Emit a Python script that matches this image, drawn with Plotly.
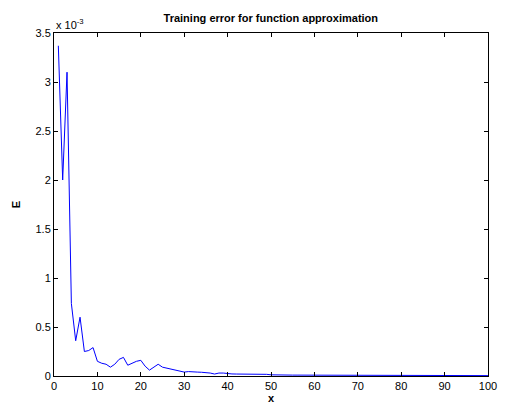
import plotly.graph_objects as go

# Training epochs / x values
x_values = list(range(1, 101))

# Training error E, in units of 1e-3
error_e3 = [
    3.37, 2.00, 3.10, 0.74, 0.36, 0.60, 0.25, 0.26, 0.29, 0.15,
    0.13, 0.12, 0.09, 0.12, 0.17, 0.19, 0.11, 0.13, 0.15, 0.16,
    0.10, 0.06, 0.09, 0.12, 0.09, 0.08, 0.07, 0.06, 0.045, 0.04,
    0.045, 0.04, 0.04, 0.038, 0.037, 0.03, 0.02, 0.03, 0.03, 0.022,
    0.021, 0.02, 0.02, 0.019, 0.019, 0.018, 0.018, 0.017, 0.017, 0.012,
    0.010, 0.010, 0.010, 0.009, 0.009, 0.009, 0.009, 0.008, 0.008, 0.008,
    0.008, 0.008, 0.007, 0.007, 0.007, 0.007, 0.007, 0.007, 0.006, 0.006,
    0.006, 0.006, 0.006, 0.006, 0.006, 0.006, 0.005, 0.005, 0.005, 0.005,
    0.005, 0.005, 0.005, 0.005, 0.005, 0.005, 0.005, 0.005, 0.005, 0.005,
    0.004, 0.004, 0.004, 0.004, 0.004, 0.004, 0.004, 0.004, 0.004, 0.004,
]

x_ticks = [0, 10, 20, 30, 40, 50, 60, 70, 80, 90, 100]
y_ticks = [0, 0.5, 1, 1.5, 2, 2.5, 3, 3.5]
y_tick_labels = ["0", "0.5", "1", "1.5", "2", "2.5", "3", "3.5"]

title_text = "Training error for function approximation"
x_label = "x"
y_label = "E"
exponent_text = "x 10<sup>-3</sup>"

font_family = "Liberation Sans, Arial, sans-serif"

fig = go.Figure()
fig.add_trace(go.Scatter(
    x=x_values, y=error_e3, mode="lines",
    line=dict(color="#0000ff", width=1),
    showlegend=False, hoverinfo="skip",
))

axis_common = dict(
    showline=True, linecolor="black", linewidth=1, mirror="ticks",
    ticks="inside", ticklen=4, tickcolor="black", tickwidth=1,
    showgrid=False, zeroline=False, automargin=False,
    tickfont=dict(family=font_family, size=11, color="black"),
)

fig.update_layout(
    width=510, height=408,
    margin=dict(l=54, r=22, t=33, b=32),
    paper_bgcolor="white", plot_bgcolor="white",
    title=dict(text="<b>" + title_text + "</b>", x=0.531, xanchor="center",
               y=0.956, yanchor="middle",
               font=dict(family=font_family, size=11, color="black")),
    xaxis=dict(range=[0, 100], tickvals=x_ticks,
               title=dict(text="<b>" + x_label + "</b>", standoff=0,
                          font=dict(family=font_family, size=11, color="black")),
               **axis_common),
    yaxis=dict(range=[0, 3.5], tickvals=y_ticks, ticktext=y_tick_labels,
               title=dict(text="<b>" + y_label + "</b>", standoff=12,
                          font=dict(family=font_family, size=11, color="black")),
               **axis_common),
    annotations=[dict(text=exponent_text, xref="paper", yref="paper",
                      x=0.0, y=1.0, xanchor="left", yanchor="bottom",
                      yshift=0, showarrow=False,
                      font=dict(family=font_family, size=11, color="black"))],
)

fig.write_html(
    "out.html",
    config={"displayModeBar": False, "staticPlot": True},
    post_script="document.body.style.margin='0';document.body.style.overflow='hidden';",
)
